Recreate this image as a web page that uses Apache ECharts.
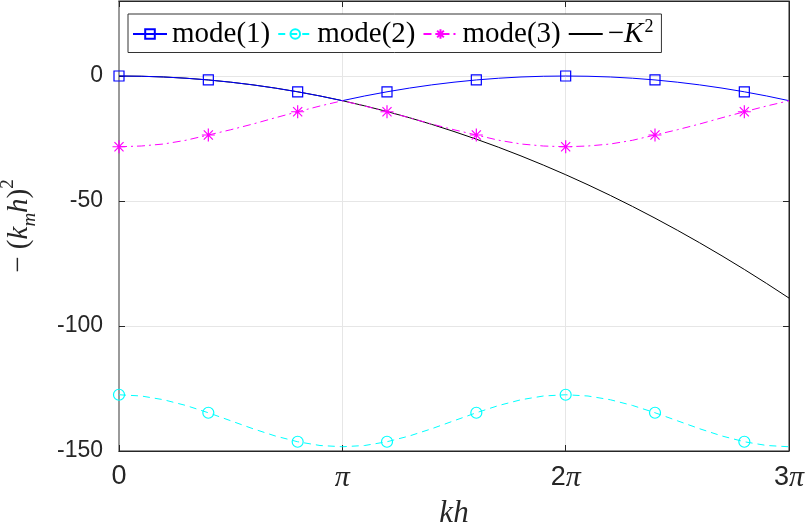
<!DOCTYPE html>
<html>
<head>
<meta charset="utf-8">
<script src="https://cdn.jsdelivr.net/npm/echarts@6/dist/echarts.min.js"></script>
<style>
html, body { margin: 0; padding: 0; background: #fff; }
#main { width: 810px; height: 522px; }
</style>
</head>
<body>
<div id="main"></div>
<script>
// kh in units of pi
var khOverPi = [0, 0.1, 0.2, 0.3, 0.4, 0.5, 0.6, 0.7, 0.8, 0.9, 1.0,
    1.1, 1.2, 1.3, 1.4, 1.5, 1.6, 1.7, 1.8, 1.9, 2.0,
    2.1, 2.2, 2.3, 2.4, 2.5, 2.6, 2.7, 2.8, 2.9, 3.0];

var mode1 = [0, -0.10, -0.39, -0.89, -1.58, -2.47, -3.55, -4.84, -6.32, -7.99, -9.87,
    -7.99, -6.32, -4.84, -3.55, -2.47, -1.58, -0.89, -0.39, -0.10, 0,
    -0.10, -0.39, -0.89, -1.58, -2.47, -3.55, -4.84, -6.32, -7.99, -9.87];

var mode2 = [-127.5, -128.0, -129.5, -131.8, -134.7, -137.9, -141.1, -144.0, -146.3, -147.8, -148.3,
    -147.8, -146.3, -144.0, -141.1, -137.9, -134.7, -131.8, -129.5, -128.0, -127.5,
    -128.0, -129.5, -131.8, -134.7, -137.9, -141.1, -144.0, -146.3, -147.8, -148.3];

var mode3 = [-28.3, -28.0, -27.2, -25.7, -23.6, -21.5, -19.2, -16.7, -14.3, -12.0, -9.9,
    -12.0, -14.3, -16.7, -19.2, -21.5, -23.6, -25.7, -27.2, -28.0, -28.3,
    -28.0, -27.2, -25.7, -23.6, -21.5, -19.2, -16.7, -14.3, -12.0, -9.9];

var negK2 = [0, -0.10, -0.39, -0.89, -1.58, -2.47, -3.55, -4.84, -6.32, -7.99, -9.87,
    -11.94, -14.21, -16.68, -19.34, -22.21, -25.27, -28.52, -31.98, -35.63, -39.48,
    -43.53, -47.77, -52.21, -56.85, -61.69, -66.72, -71.95, -77.38, -83.00, -88.83];

// markers every 0.4*pi
var markerStep = 4;
var xTickLabels = {0: '{n|0}', 1: '{p|π}', 2: '{n|2}{p|π}', 3: '{n|3}{p|π}'};

var myChart = echarts.init(document.getElementById('main'));

function pairs(ys, withMarkers) {
    return ys.map(function (y, i) {
        var item = { value: [khOverPi[i], y] };
        if (!withMarkers || i % markerStep !== 0 || i === ys.length - 1) {
            item.symbol = 'none';
        }
        return item;
    });
}

var serifFont = 'Liberation Serif';
var sansFont = 'Liberation Sans';
var axisColor = '#262626';
var asterisk = 'path://M10,0L10,20M0,10L20,10M3,3L17,17M3,17L17,3';

option = {
    animation: false,
    backgroundColor: '#fff',
    grid: {
        left: 119,
        right: 21,
        top: 1,
        bottom: 71,
        outerBoundsMode: 'none',
        containLabel: false,
        show: true,
        borderColor: axisColor,
        borderWidth: 1
    },
    legend: {
        left: 128,
        top: 14,
        orient: 'horizontal',
        backgroundColor: '#fff',
        borderColor: '#333',
        borderWidth: 1,
        borderRadius: 0,
        padding: [4, 8, 4, 4],
        itemGap: 7,
        itemWidth: 34,
        itemHeight: 12,
        data: ['mode(1)', 'mode(2)', 'mode(3)', { name: '-K2', itemStyle: { opacity: 0 } }],
        formatter: function (name) {
            if (name === '-K2') return '{t|−}{i|K}{s|2}';
            return name;
        },
        textStyle: {
            fontFamily: serifFont,
            fontSize: 29,
            color: '#000',
            rich: {
                t: { fontFamily: serifFont, fontSize: 29, color: '#000' },
                i: { fontFamily: serifFont, fontStyle: 'italic', fontSize: 29, color: '#000' },
                s: { fontFamily: serifFont, fontSize: 18, color: '#000', verticalAlign: 'top', padding: [0, 0, 14, 1] }
            }
        }
    },
    xAxis: [{
        type: 'value',
        min: 0,
        max: 3,
        interval: 1,
        name: 'kh',
        nameLocation: 'middle',
        nameGap: 36,
        nameTextStyle: { fontFamily: serifFont, fontStyle: 'italic', fontSize: 31, color: '#262626' },
        axisLine: { show: true, onZero: false, lineStyle: { color: axisColor, width: 1 } },
        axisTick: { show: true, inside: true, length: 6, lineStyle: { color: axisColor } },
        axisLabel: {
            margin: 12,
            color: '#262626',
            formatter: function (v) { return xTickLabels[v]; },
            rich: {
                n: { fontFamily: sansFont, fontSize: 27, color: '#262626' },
                p: { fontFamily: serifFont, fontStyle: 'italic', fontSize: 30, color: '#262626' }
            }
        },
        splitLine: { show: true, lineStyle: { color: '#e6e6e6', width: 1 } }
    }, {
        type: 'value',
        position: 'top',
        min: 0,
        max: 3,
        interval: 1,
        axisLine: { show: true, onZero: false, lineStyle: { color: axisColor } },
        axisTick: { show: true, inside: true, length: 6, lineStyle: { color: axisColor } },
        axisLabel: { show: false },
        splitLine: { show: false }
    }],
    yAxis: [{
        type: 'value',
        min: -150,
        max: 30,
        interval: 50,
        name: '{t|− (}{i|k}{s|m}{i|h}{t|)}{p|2}',
        nameLocation: 'middle',
        nameGap: 80,
        nameRotate: 90,
        nameTextStyle: {
            color: '#262626',
            rich: {
                t: { fontFamily: serifFont, fontSize: 29, color: '#262626', lineHeight: 40 },
                i: { fontFamily: serifFont, fontStyle: 'italic', fontSize: 29, color: '#262626', lineHeight: 40 },
                s: { fontFamily: serifFont, fontStyle: 'italic', fontSize: 19, color: '#262626', verticalAlign: 'bottom', lineHeight: 30 },
                p: { fontFamily: serifFont, fontSize: 19, color: '#262626', verticalAlign: 'top', lineHeight: 32 }
            }
        },
        axisLine: { show: true, onZero: false, lineStyle: { color: '#9a9a9a', width: 2 } },
        axisTick: { show: true, inside: true, length: 6, lineStyle: { color: axisColor } },
        axisLabel: {
            margin: 16,
            fontSize: 23,
            color: '#262626',
            fontFamily: sansFont,
            showMaxLabel: false
        },
        splitLine: { show: true, lineStyle: { color: '#e6e6e6', width: 1 } }
    }, {
        type: 'value',
        position: 'right',
        min: -150,
        max: 30,
        interval: 50,
        axisLine: { show: true, onZero: false, lineStyle: { color: axisColor } },
        axisTick: { show: true, inside: true, length: 6, lineStyle: { color: axisColor } },
        axisLabel: { show: false },
        splitLine: { show: false }
    }],
    series: [{
        name: 'mode(1)',
        type: 'line',
        xAxisIndex: 0,
        yAxisIndex: 0,
        symbol: 'rect',
        symbolSize: 10,
        showAllSymbol: true,
        lineStyle: { color: '#0000ff', width: 1 },
        itemStyle: { color: 'rgba(255,255,255,0)', borderColor: '#0000ff', borderWidth: 1.2 },
        data: pairs(mode1, true),
        z: 3
    }, {
        name: 'mode(2)',
        type: 'line',
        xAxisIndex: 0,
        yAxisIndex: 0,
        symbol: 'circle',
        symbolSize: 11,
        showAllSymbol: true,
        lineStyle: { color: '#00ffff', width: 1, type: [7, 5] },
        itemStyle: { color: 'rgba(255,255,255,0)', borderColor: '#00ffff', borderWidth: 1.2 },
        data: pairs(mode2, true),
        z: 3
    }, {
        name: 'mode(3)',
        type: 'line',
        xAxisIndex: 0,
        yAxisIndex: 0,
        symbol: asterisk,
        symbolSize: 13,
        showAllSymbol: true,
        lineStyle: { color: '#ff00ff', width: 1, type: [8, 4, 2, 4] },
        itemStyle: { color: 'rgba(255,255,255,0)', borderColor: '#ff00ff', borderWidth: 1.2 },
        data: pairs(mode3, true),
        z: 3
    }, {
        name: '-K2',
        type: 'line',
        xAxisIndex: 0,
        yAxisIndex: 0,
        symbol: 'none',
        lineStyle: { color: '#000000', width: 1 },
        itemStyle: { color: '#000000' },
        data: pairs(negK2, false),
        z: 2
    }]
};

myChart.setOption(option);
</script>
</body>
</html>
